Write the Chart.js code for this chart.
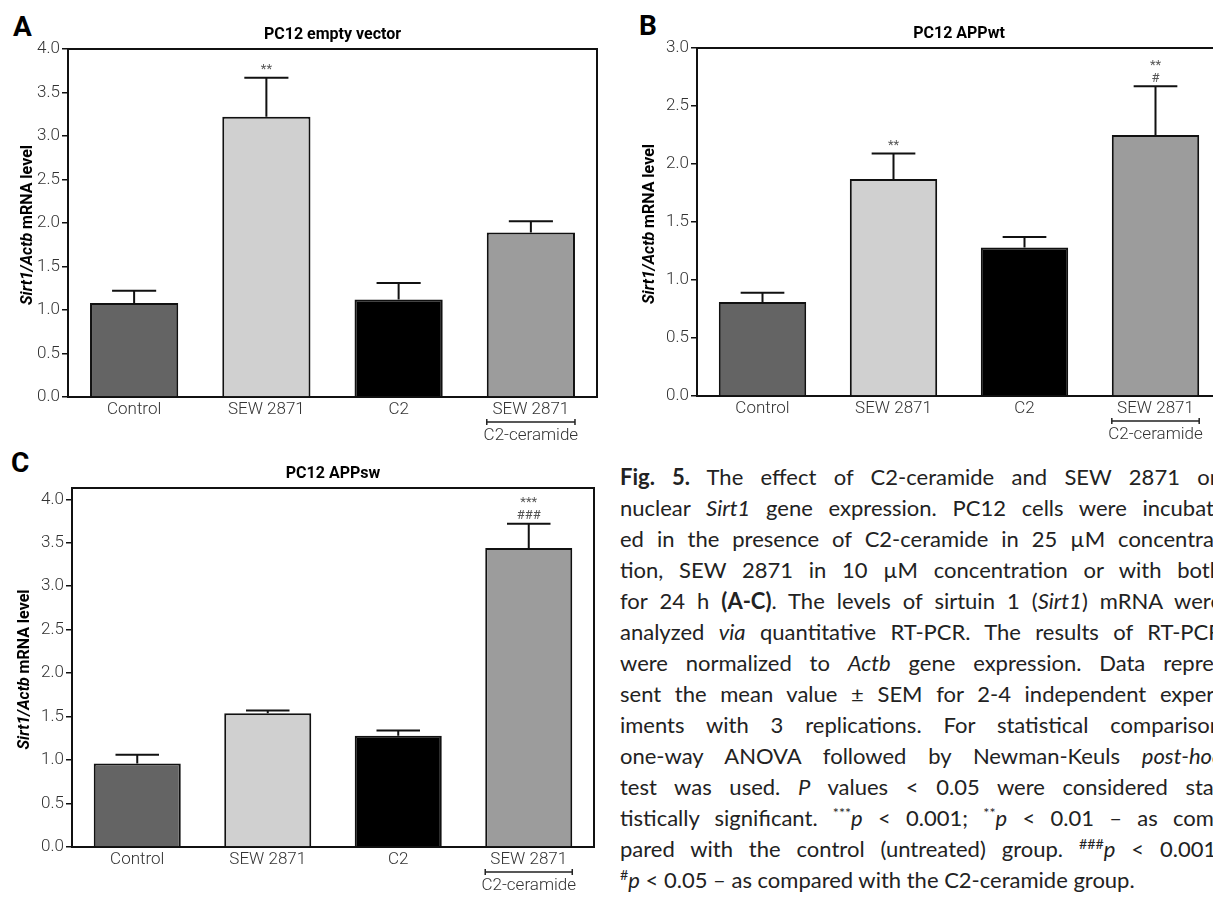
<!DOCTYPE html>
<html>
<head>
<meta charset="utf-8">
<script src="https://cdn.jsdelivr.net/npm/chart.js@4.4.1/dist/chart.umd.min.js"></script>
<style>
  html, body { margin: 0; padding: 0; background: #fff; }
  body { width: 1213px; height: 898px; position: relative; overflow: hidden; }
  canvas { position: absolute; }
  .letter { position: absolute; font: bold 28px Roboto, sans-serif; color: #000; line-height: 1; }
  #caption { position: absolute; left: 620px; top: 461px; width: 602px;
    font: 22px Lato, sans-serif; color: #222; line-height: 31px; }
  #caption div { white-space: nowrap; text-align: justify; text-align-last: justify; }
  #caption div.last { text-align: left; text-align-last: left; }
  #caption sup { font-size: 0.65em; line-height: 0; vertical-align: 0.55em; }
</style>
</head>
<body>
<div class="letter" style="left:13px; top:13px;">A</div>
<div class="letter" style="left:639px; top:12px;">B</div>
<div class="letter" style="left:11px; top:449px;">C</div>

<canvas id="chartA" width="610" height="450" style="left:0; top:0;"></canvas>
<canvas id="chartB" width="630" height="450" style="left:600px; top:0;"></canvas>
<canvas id="chartC" width="610" height="448" style="left:0; top:450px;"></canvas>

<div id="caption">
  <div><b>Fig. 5.</b> The effect of C2-ceramide and SEW 2871 on</div>
  <div>nuclear <i>Sirt1</i> gene expression. PC12 cells were incubat-</div>
  <div>ed in the presence of C2-ceramide in 25 µM concentra-</div>
  <div>tion, SEW 2871 in 10 µM concentration or with both</div>
  <div>for 24 h <b>(A-C)</b>. The levels of sirtuin 1 (<i>Sirt1</i>) mRNA were</div>
  <div>analyzed <i>via</i> quantitative RT-PCR. The results of RT-PCR</div>
  <div>were normalized to <i>Actb</i> gene expression. Data repre-</div>
  <div>sent the mean value ± SEM for 2-4 independent exper-</div>
  <div>iments with 3 replications. For statistical comparison</div>
  <div>one-way ANOVA followed by Newman-Keuls <i>post-hoc</i></div>
  <div>test was used. <i>P</i> values &lt; 0.05 were considered sta-</div>
  <div>tistically significant. <sup>***</sup><i>p</i> &lt; 0.001; <sup>**</sup><i>p</i> &lt; 0.01 – as com-</div>
  <div>pared with the control (untreated) group. <sup>###</sup><i>p</i> &lt; 0.001;</div>
  <div class="last"><sup>#</sup><i>p</i> &lt; 0.05 – as compared with the C2-ceramide group.</div>
</div>

<script>
// categories shared by the three panels (last one is the combined treatment)
const categories = ['Control', 'SEW 2871', 'C2', ['SEW 2871', 'C2-ceramide']];
const barColors = ['#646464', '#d0d0d0', '#000000', '#9c9c9c'];
const yTickStep = 0.5;

// A - PC12 empty vector
const emptyVectorMean = [1.08, 3.22, 1.12, 1.89];
const emptyVectorSem = [0.14, 0.45, 0.19, 0.13];
const emptyVectorMarks = [[], ['**'], [], []];

// B - PC12 APPwt
const appWtMean = [0.81, 1.87, 1.28, 2.25];
const appWtSem = [0.08, 0.22, 0.09, 0.42];
const appWtMarks = [[], ['**'], [], ['**', '#']];

// C - PC12 APPsw
const appSwMean = [0.96, 1.54, 1.28, 3.44];
const appSwSem = [0.10, 0.03, 0.06, 0.28];
const appSwMarks = [[], [], [], ['***', '###']];

const FONT = 'Roboto, sans-serif';
const tickFont = { family: FONT, size: 17, weight: 300 };

// error bars, significance marks, frame, bracket, title and y label
const panelPlugin = {
  id: 'panel',
  afterDatasetsDraw(chart, args, opts) {
    const ctx = chart.ctx;
    const y = chart.scales.y;
    const meta = chart.getDatasetMeta(0);
    ctx.save();
    meta.data.forEach((bar, i) => {
      const yTop = y.getPixelForValue(opts.mean[i] + opts.sem[i]);
      const half = bar.width / 4;
      ctx.strokeStyle = '#111';
      ctx.lineWidth = 2;
      ctx.beginPath();
      ctx.moveTo(bar.x, bar.y);
      ctx.lineTo(bar.x, yTop);
      ctx.moveTo(bar.x - half, yTop);
      ctx.lineTo(bar.x + half, yTop);
      ctx.stroke();
      const marks = opts.marks[i];
      ctx.fillStyle = '#555';
      ctx.font = '13px ' + FONT;
      ctx.textAlign = 'center';
      ctx.textBaseline = 'middle';
      marks.forEach((m, k) => {
        const off = (marks.length - k) * 13 - 5;
        ctx.fillText(m, bar.x, yTop - off);
      });
    });
    ctx.restore();
  },
  afterDraw(chart, args, opts) {
    const ctx = chart.ctx;
    const { left, right, top, bottom } = chart.chartArea;
    ctx.save();
    // top and right frame
    ctx.strokeStyle = '#111';
    ctx.lineWidth = 2;
    ctx.beginPath();
    ctx.moveTo(left, top);
    ctx.lineTo(right, top);
    ctx.lineTo(right, bottom);
    ctx.stroke();

    // bracket between "SEW 2871" and "C2-ceramide"
    const bar = chart.getDatasetMeta(0).data[3];
    const bx0 = bar.x - bar.width / 2, bx1 = bar.x + bar.width / 2, by = bottom + 25;
    ctx.lineWidth = 1.5;
    ctx.strokeStyle = '#222';
    ctx.beginPath();
    ctx.moveTo(bx0, by); ctx.lineTo(bx1, by);
    ctx.moveTo(bx0, by - 3); ctx.lineTo(bx0, by + 3);
    ctx.moveTo(bx1, by - 3); ctx.lineTo(bx1, by + 3);
    ctx.stroke();

    // title
    ctx.fillStyle = '#000';
    ctx.font = 'bold 16px ' + FONT;
    ctx.textAlign = 'center';
    ctx.textBaseline = 'middle';
    ctx.fillText(opts.title, (left + right) / 2, top - 14);

    // y axis label: italic gene names + plain text
    const parts = [
      { t: 'Sirt1/Actb', f: 'italic bold 16px ' + FONT },
      { t: ' mRNA level', f: 'bold 16px ' + FONT }
    ];
    let total = 0;
    parts.forEach(p => { ctx.font = p.f; p.w = ctx.measureText(p.t).width; total += p.w; });
    ctx.translate(left - opts.labelOffset, (top + bottom) / 2 + 2);
    ctx.rotate(-Math.PI / 2);
    ctx.textAlign = 'left';
    let x = -total / 2;
    parts.forEach(p => { ctx.font = p.f; ctx.fillText(p.t, x, 0); x += p.w; });
    ctx.restore();
  }
};

function makePanel(id, title, mean, sem, marks, yMax, box) {
  const canvas = document.getElementById(id);
  const H = canvas.height, W = canvas.width;
  return new Chart(canvas.getContext('2d'), {
    type: 'bar',
    data: {
      labels: categories,
      datasets: [{
        data: mean,
        backgroundColor: barColors,
        borderColor: '#111',
        borderWidth: 2,
        categoryPercentage: 1,
        barPercentage: 0.667
      }]
    },
    options: {
      responsive: false,
      animation: false,
      layout: { padding: { top: box.top, right: W - box.right, left: 0, bottom: 0 } },
      plugins: {
        legend: { display: false },
        tooltip: { enabled: false },
        panel: { title: title, mean: mean, sem: sem, marks: marks, labelOffset: box.labelOffset }
      },
      scales: {
        x: {
          grid: { display: false, drawTicks: false },
          border: { display: true, color: '#111', width: 2 },
          ticks: {
            color: '#333',
            font: { ...tickFont, lineHeight: 1.53 },
            padding: 0,
            maxRotation: 0,
            autoSkip: false
          },
          afterFit: s => { s.height = H - box.bottom; }
        },
        y: {
          min: 0,
          max: yMax,
          grid: { drawOnChartArea: false, drawTicks: true, tickLength: 6, color: '#111', lineWidth: 1.5 },
          border: { display: true, color: '#111', width: 2 },
          ticks: {
            stepSize: yTickStep,
            includeBounds: false,
            color: '#333',
            font: tickFont,
            padding: 2,
            callback: v => v.toFixed(1)
          },
          afterFit: s => { s.width = box.left; }
        }
      }
    },
    plugins: [panelPlugin]
  });
}

makePanel('chartA', 'PC12 empty vector', emptyVectorMean, emptyVectorSem, emptyVectorMarks, 4.0,
  { left: 68, right: 597, top: 49, bottom: 397, labelOffset: 40 });
makePanel('chartB', 'PC12 APPwt', appWtMean, appWtSem, appWtMarks, 3.0,
  { left: 97, right: 621, top: 48, bottom: 396, labelOffset: 47 });
makePanel('chartC', 'PC12 APPsw', appSwMean, appSwSem, appSwMarks, 4.13,
  { left: 72, right: 594, top: 38, bottom: 397, labelOffset: 47 });
</script>
</body>
</html>
